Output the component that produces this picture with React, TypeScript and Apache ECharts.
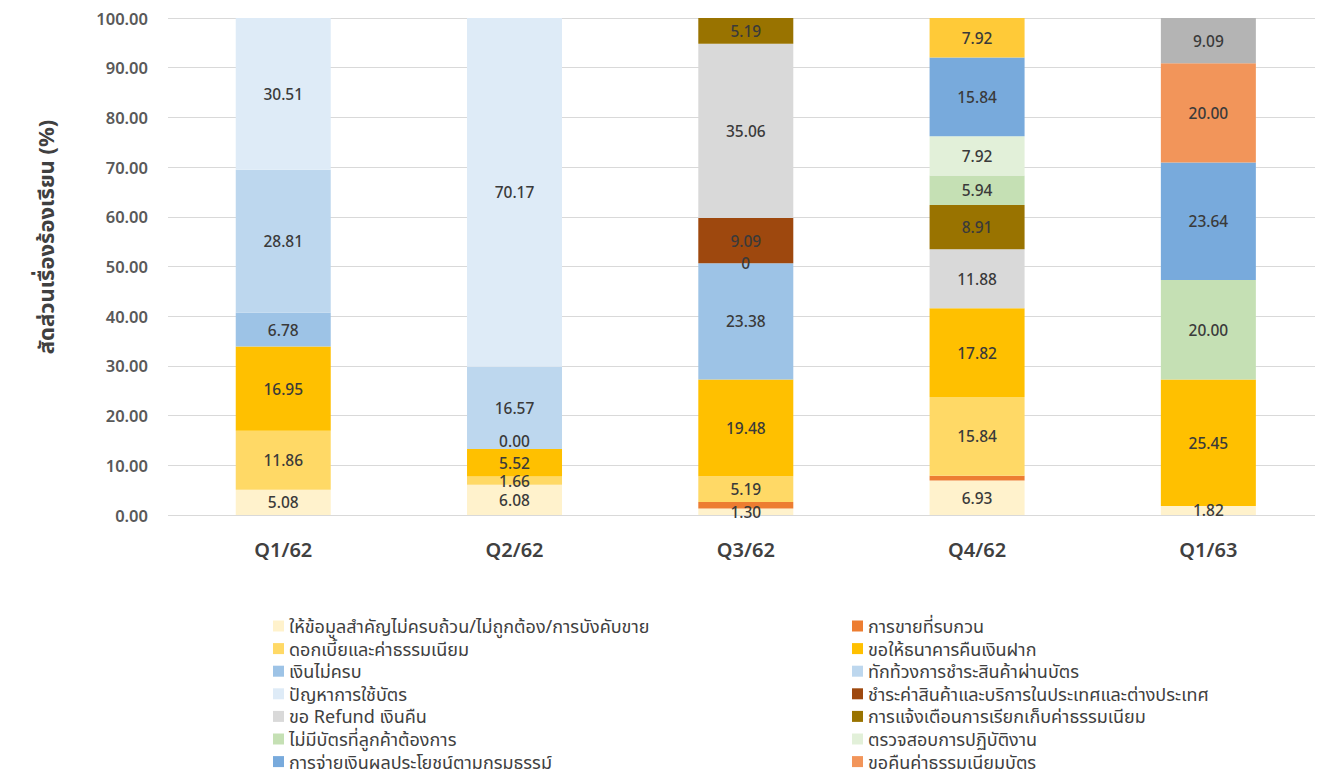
import React, { useEffect, useRef } from 'react';
import * as echarts from 'echarts';

// Quarters (Thai Buddhist-era years)
const categories = ['Q1/62', 'Q2/62', 'Q3/62', 'Q4/62', 'Q1/63'];
const yTickMin = 0;
const yTickMax = 100;
const yTickStep = 10;

// Complaint share (%) per quarter, one array per complaint type
const incompleteInfo = [5.08, 6.08, 1.3, 6.93, 1.82];
const disruptiveSales = [null, null, 1.3, 0.99, null];
const interestFees = [11.86, 1.66, 5.19, 15.84, null];
const depositReturn = [16.95, 5.52, 19.48, 17.82, 25.45];
const shortCash = [6.78, 0.0, 23.38, null, null];
const cardDispute = [28.81, 16.57, 0, null, null];
const cardUsage = [30.51, 70.17, null, null, null];
const goodsPayment = [null, null, 9.09, null, null];
const refundRequest = [null, null, 35.06, 11.88, null];
const feeNotice = [null, null, 5.19, 8.91, null];
const cardUnavailable = [null, null, null, 5.94, 20.0];
const operationCheck = [null, null, null, 7.92, null];
const policyPayout = [null, null, null, 15.84, 23.64];
const cardFeeRefund = [null, null, null, null, 20.0];
const otherA = [null, null, null, 7.92, null];
const otherB = [null, null, null, null, 9.09];

const seriesNames = [
  'ให้ข้อมูลสำคัญไม่ครบถ้วน/ไม่ถูกต้อง/การบังคับขาย',
  'การขายที่รบกวน',
  'ดอกเบี้ยและค่าธรรมเนียม',
  'ขอให้ธนาคารคืนเงินฝาก',
  'เงินไม่ครบ',
  'ทักท้วงการชำระสินค้าผ่านบัตร',
  'ปัญหาการใช้บัตร',
  'ชำระค่าสินค้าและบริการในประเทศและต่างประเทศ',
  'ขอ Refund เงินคืน',
  'การแจ้งเตือนการเรียกเก็บค่าธรรมเนียม',
  'ไม่มีบัตรที่ลูกค้าต้องการ',
  'ตรวจสอบการปฏิบัติงาน',
  'การจ่ายเงินผลประโยชน์ตามกรมธรรม์',
  'ขอคืนค่าธรรมเนียมบัตร',
  'other-a',
  'other-b',
];

const seriesValues = [
  incompleteInfo, disruptiveSales, interestFees, depositReturn, shortCash,
  cardDispute, cardUsage, goodsPayment, refundRequest, feeNotice,
  cardUnavailable, operationCheck, policyPayout, cardFeeRefund, otherA, otherB,
];

const seriesColors = [
  '#FFF2CC', '#ED7D31', '#FFD966', '#FFC000', '#9DC3E6',
  '#BDD7EE', '#DEEBF7', '#9E480E', '#D9D9D9', '#997300',
  '#C5E0B4', '#E2F0D9', '#78AADC', '#F2955A', '#FFCA38', '#B4B4B4',
];

// number of series listed in the legend
const legendCount = 14;
// series whose segments carry no value label
const unlabeledSeries = [1];
// cells whose value label is written without decimals: [series, category]
const plainLabelCells = [[5, 2]];
// cells whose value label is lifted: [series, category, dy]
const liftedLabelCells = [[4, 1, -8]];

const FONT = "'Noto Sans', 'Noto Sans Thai', 'Leelawadee UI', sans-serif";

export default function App() {
  const ref = useRef<HTMLDivElement>(null);

  useEffect(() => {
    if (!ref.current) return;
    const chart = echarts.init(ref.current, null, { renderer: 'svg' });

    const series = seriesValues.map((values, si) => ({
      name: seriesNames[si],
      type: 'bar',
      stack: 'share',
      xAxisIndex: 1,
      yAxisIndex: 1,
      barWidth: 95,
      itemStyle: { color: seriesColors[si] },
      label: {
        show: !unlabeledSeries.includes(si),
        position: 'inside',
        fontFamily: FONT,
        fontSize: 15.5,
        fontWeight: 500,
        lineHeight: 14,
        color: '#3a3a3a',
        formatter: (p: any) => {
          const plain = plainLabelCells.some(([s, c]) => s === si && c === p.dataIndex);
          return plain ? String(p.value) : Number(p.value).toFixed(2);
        },
      },
      data: values.map((v, ci) => {
        const lift = liftedLabelCells.find(([s, c]) => s === si && c === ci);
        return lift && v !== null ? { value: v, label: { offset: [0, lift[2]] } } : v;
      }),
    }));

    const legendStyle = {
      orient: 'vertical',
      top: 617,
      height: 160,
      padding: 0,
      icon: 'rect',
      itemWidth: 11,
      itemHeight: 11,
      itemGap: 4.6,
      selectedMode: false,
      textStyle: { fontFamily: FONT, fontSize: 18, color: '#404040', lineHeight: 18 },
    };

    chart.setOption({
      animation: false,
      textStyle: { fontFamily: FONT },
      grid: [
        { left: 168, top: 18, width: 1147, height: 497 },
        { left: 167.6, top: 18, width: 1179, height: 497 },
      ],
      xAxis: [
        { gridIndex: 0, type: 'category', data: categories, show: false },
        {
          gridIndex: 1,
          type: 'category',
          data: categories,
          axisLine: { show: false },
          axisTick: { show: false },
          axisLabel: {
            margin: 24,
            fontFamily: FONT,
            fontSize: 20,
            fontWeight: 600,
            color: '#404040',
          },
        },
      ],
      yAxis: [
        {
          gridIndex: 0,
          type: 'value',
          min: yTickMin,
          max: yTickMax,
          interval: yTickStep,
          axisLine: { show: false },
          axisTick: { show: false },
          splitLine: { lineStyle: { color: '#D9D9D9', width: 1 } },
          axisLabel: {
            margin: 20,
            fontFamily: FONT,
            fontSize: 16.5,
            fontWeight: 600,
            color: '#595959',
            formatter: (v: number) => v.toFixed(2),
          },
        },
        {
          gridIndex: 1,
          type: 'value',
          min: yTickMin,
          max: yTickMax,
          show: false,
          splitLine: { show: false },
        },
      ],
      legend: [
        {
          ...legendStyle,
          left: 273,
          data: seriesNames.filter((_, i) => i < legendCount && i % 2 === 0),
        },
        {
          ...legendStyle,
          left: 852,
          data: seriesNames.filter((_, i) => i < legendCount && i % 2 === 1),
        },
      ],
      graphic: [
        {
          type: 'text',
          x: 45,
          y: 237,
          rotation: Math.PI / 2,
          style: {
            text: 'สัดส่วนเรื่องร้องเรียน (%)',
            fontFamily: FONT,
            fontSize: 22,
            fontWeight: 'bold',
            fill: '#404040',
            textAlign: 'center',
            textVerticalAlign: 'middle',
          },
        },
      ],
      series,
    });

    return () => chart.dispose();
  }, []);

  return (
    <div
      ref={ref}
      style={{ position: 'absolute', left: 0, top: 0, width: 1324, height: 776 }}
    />
  );
}
